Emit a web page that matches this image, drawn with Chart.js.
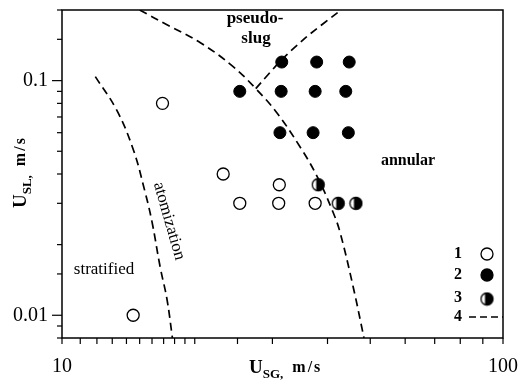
<!DOCTYPE html>
<html lang="en">
<head>
    <meta charset="UTF-8">
    <title>Flow regime map</title>
    <script src="https://cdn.jsdelivr.net/npm/chart.js"></script>
    <style>
        body { margin: 0; background: #fff; }
        canvas { display: block; }
    </style>
</head>
<body>
    <canvas id="mapChart" width="521" height="389"></canvas>
    <script>
        // superficial gas / liquid velocities, m/s
        const openX = [14.5, 16.9, 23.2, 25.3, 31.0, 37.5, 31.1];
        const openY = [0.01, 0.08, 0.04, 0.03, 0.03, 0.03, 0.036];
        const filledX = [25.3, 31.5, 37.8, 44.8, 31.4, 37.5, 44.0, 31.2, 37.1, 44.6];
        const filledY = [0.09, 0.12, 0.12, 0.12, 0.09, 0.09, 0.09, 0.06, 0.06, 0.06];
        const halfX = [38.1, 42.3, 46.4];
        const halfY = [0.036, 0.03, 0.03];

        // regime boundaries (dashed)
        const atomX = [11.9, 13.3, 14.5, 15.4, 16.0, 16.7, 17.3, 17.8];
        const atomY = [0.104, 0.075, 0.051, 0.034, 0.025, 0.016, 0.0117, 0.008];
        const annularX = [15.0, 17.3, 20.6, 24.4, 27.5, 30.7, 34.7, 37.9, 41.2, 42.7, 45.7, 48.4];
        const annularY = [0.2, 0.173, 0.145, 0.115, 0.0925, 0.073, 0.052, 0.039, 0.0274, 0.0226, 0.0133, 0.008];
        const slugX = [27.5, 31.5, 35.9, 42.9];
        const slugY = [0.0925, 0.123, 0.154, 0.2];

        const xLabels = [10, 100];
        const yLabels = [0.01, 0.1];

        const serif = "'Liberation Serif', 'DejaVu Serif', serif";
        const pts = (xs, ys) => xs.map((x, i) => ({ x: x, y: ys[i] }));

        // half-filled marker
        const half = document.createElement('canvas');
        half.width = 15; half.height = 15;
        const hc = half.getContext('2d');
        hc.save();
        hc.beginPath(); hc.arc(7.5, 7.5, 6.3, 0, Math.PI * 2); hc.clip();
        hc.fillStyle = '#000';
        hc.fillRect(5.5, 0, 15, 15);
        hc.restore();
        hc.beginPath(); hc.arc(7.5, 7.5, 6, 0, Math.PI * 2);
        hc.lineWidth = 1.3; hc.strokeStyle = '#000'; hc.stroke();

        const drawCircle = (ctx, x, y, filled) => {
            ctx.beginPath();
            ctx.arc(x, y, 6, 0, Math.PI * 2);
            ctx.fillStyle = filled ? '#000' : '#fff';
            ctx.fill();
            ctx.lineWidth = 1.3;
            ctx.strokeStyle = '#000';
            ctx.stroke();
            ctx.fillStyle = '#000';
        };

        const drawTitle = (ctx, x, y, sub) => {
            ctx.textAlign = 'left';
            ctx.textBaseline = 'alphabetic';
            ctx.font = 'bold 19px ' + serif;
            ctx.fillText('U', x, y);
            let w = ctx.measureText('U').width;
            ctx.font = 'bold 13px ' + serif;
            ctx.fillText(sub + ',', x + w, y + 5);
            w += ctx.measureText(sub + ',').width + 9;
            ctx.font = 'bold 16px ' + serif;
            ctx.letterSpacing = '2px';
            ctx.fillText('m/s', x + w, y - 1);
            ctx.letterSpacing = '0px';
        };

        const decorations = {
            id: 'decorations',
            afterDraw(chart) {
                const ctx = chart.ctx;
                const a = chart.chartArea;
                const xs = chart.scales.x, ys = chart.scales.y;
                ctx.save();
                ctx.strokeStyle = '#000';
                ctx.fillStyle = '#000';
                ctx.lineWidth = 1.5;
                ctx.strokeRect(a.left, a.top, a.right - a.left, a.bottom - a.top);

                ctx.lineWidth = 1.2;
                ys.ticks.forEach(t => {
                    const py = ys.getPixelForValue(t.value);
                    const len = yLabels.includes(t.value) ? 10 : 5;
                    ctx.beginPath(); ctx.moveTo(a.left - len, py); ctx.lineTo(a.left, py); ctx.stroke();
                });
                xs.ticks.forEach(t => {
                    const px = xs.getPixelForValue(t.value);
                    ctx.beginPath(); ctx.moveTo(px, a.bottom); ctx.lineTo(px, a.bottom + 6); ctx.stroke();
                });

                drawTitle(ctx, 249, 373, 'SG');
                ctx.save();
                ctx.translate(26, 208);
                ctx.rotate(-Math.PI / 2);
                drawTitle(ctx, 0, 0, 'SL');
                ctx.restore();

                ctx.textAlign = 'center';
                ctx.textBaseline = 'middle';
                ctx.font = 'bold 17px ' + serif;
                ctx.fillText('pseudo-', 255, 19);
                ctx.fillText('slug', 256, 39);
                ctx.font = 'bold 16px ' + serif;
                ctx.fillText('annular', 408, 161);
                ctx.font = '17px ' + serif;
                ctx.fillText('stratified', 104, 270);
                ctx.save();
                ctx.translate(169, 221);
                ctx.rotate(74 * Math.PI / 180);
                ctx.fillText('atomization', 0, 0);
                ctx.restore();

                // legend
                ctx.font = 'bold 16px ' + serif;
                ctx.fillText('1', 458, 254);
                ctx.fillText('2', 458, 275);
                ctx.fillText('3', 458, 298);
                ctx.fillText('4', 458, 317);
                drawCircle(ctx, 487, 254, false);
                drawCircle(ctx, 487, 275, true);
                ctx.drawImage(half, 487 - 7.5, 299 - 7.5);
                ctx.setLineDash([7, 4]);
                ctx.lineWidth = 1.7;
                ctx.beginPath(); ctx.moveTo(469, 317); ctx.lineTo(503, 317); ctx.stroke();
                ctx.restore();
            }
        };

        const lineSet = (xs, ys, tension) => ({
            data: pts(xs, ys),
            showLine: true,
            pointRadius: 0,
            borderColor: '#000',
            borderWidth: 1.7,
            borderDash: [8, 5],
            tension: tension,
            order: 2
        });

        new Chart(document.getElementById('mapChart'), {
            type: 'scatter',
            data: {
                datasets: [
                    { data: pts(openX, openY), pointRadius: 6, pointBackgroundColor: '#fff', pointBorderColor: '#000', pointBorderWidth: 1.3, order: 1 },
                    { data: pts(filledX, filledY), pointRadius: 6, pointBackgroundColor: '#000', pointBorderColor: '#000', pointBorderWidth: 1, order: 1 },
                    { data: pts(halfX, halfY), pointStyle: half, order: 1 },
                    lineSet(atomX, atomY, 0.4),
                    lineSet(annularX, annularY, 0.4),
                    lineSet(slugX, slugY, 0.2)
                ]
            },
            options: {
                responsive: false,
                animation: false,
                devicePixelRatio: 1,
                layout: { padding: { top: 10, right: 18, left: 0, bottom: 0 } },
                plugins: { legend: { display: false }, tooltip: { enabled: false } },
                scales: {
                    x: {
                        type: 'logarithmic',
                        min: 10,
                        max: 100,
                        grid: { display: false, drawTicks: false },
                        border: { display: false },
                        ticks: {
                            autoSkip: false,
                            maxRotation: 0,
                            padding: 17,
                            color: '#000',
                            font: { family: serif, size: 20 },
                            callback: v => xLabels.includes(v) ? String(v) : ''
                        },
                        afterFit: s => { s.height = 51; s.paddingLeft = 0; s.paddingRight = 0; }
                    },
                    y: {
                        type: 'logarithmic',
                        min: 0.008,
                        max: 0.2,
                        grid: { display: false, drawTicks: false },
                        border: { display: false },
                        ticks: {
                            autoSkip: false,
                            padding: 14,
                            color: '#000',
                            font: { family: serif, size: 20 },
                            callback: v => yLabels.includes(v) ? String(v) : ''
                        },
                        afterFit: s => { s.width = 62; s.paddingTop = 0; s.paddingBottom = 0; }
                    }
                }
            },
            plugins: [decorations]
        });
    </script>
</body>
</html>
